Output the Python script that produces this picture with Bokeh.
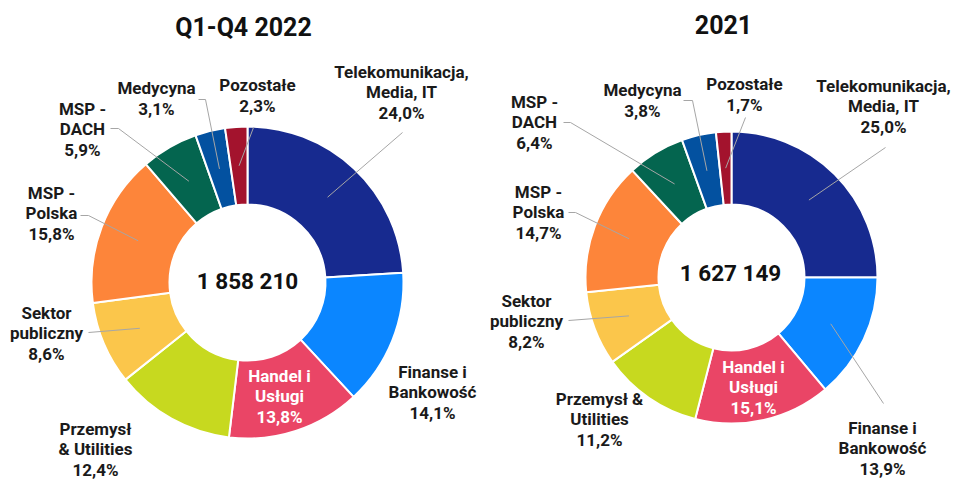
import math
from bokeh.plotting import figure
from bokeh.models import Range1d, ColumnDataSource
from bokeh.core.properties import value
from bokeh.embed import file_html
from bokeh.resources import INLINE

# ---------------- data ----------------
categories = ["Telekomunikacja, Media, IT", "Finanse i Bankowość", "Handel i Usługi",
              "Przemysł & Utilities", "Sektor publiczny", "MSP - Polska", "MSP - DACH",
              "Medycyna", "Pozostałe"]
share_2022 = [24.0, 14.1, 13.8, 12.4, 8.6, 15.8, 5.9, 3.1, 2.3]
share_2021 = [25.0, 13.9, 15.1, 11.2, 8.2, 14.7, 6.4, 3.8, 1.7]
total_2022 = "1 858 210"
total_2021 = "1 627 149"
title_2022 = "Q1-Q4 2022"
title_2021 = "2021"

# wrapped label texts (layout)
wrap_2022 = ["Telekomunikacja,\nMedia, IT", "Finanse i\nBankowość", "Handel i\nUsługi",
             "Przemysł\n& Utilities", "Sektor\npubliczny", "MSP -\nPolska", "MSP -\nDACH",
             "Medycyna", "Pozostałe"]
wrap_2021 = ["Telekomunikacja,\nMedia, IT", "Finanse i\nBankowość", "Handel i\nUsługi",
             "Przemysł &\nUtilities", "Sektor\npubliczny", "MSP -\nPolska", "MSP -\nDACH",
             "Medycyna", "Pozostałe"]

colors = ["#172a8f", "#0b86ff", "#ea4566", "#c7d91f", "#fbc64b",
          "#fd853a", "#04654f", "#0351a0", "#a3132d"]

FONT = value("Roboto")

W, H = 953, 481
p = figure(width=W, height=H, output_backend="svg", toolbar_location=None,
           x_range=Range1d(0, W), y_range=Range1d(-H, 0),
           min_border=0, outline_line_color=None, background_fill_color="white",
           border_fill_color="white", x_axis_location=None, y_axis_location=None)
p.grid.visible = False

# layout per chart: center, radii, label anchors (screen px), elbow points
charts = [
    dict(shares=share_2022, wrap=wrap_2022, total=total_2022, title=title_2022,
         cx=247, cy=282, r_out=156, r_in=78, title_pos=(243, 27), total_pos=(247, 280),
         labels=[(401, 92), (432, 392), (279, 396), (95, 449), (46, 333),
                 (51, 213), (82, 129), (156, 98), (257, 95)],
         lines=[[(402, 132)], None, None, None, [(88, 332)],
                [(80, 215), (88, 215)], [(110, 128), (118, 128)],
                [(198, 99), (205, 99)], [(253, 127)]]),
    dict(shares=share_2021, wrap=wrap_2021, total=total_2021, title=title_2021,
         cx=731, cy=277, r_out=146, r_in=73, title_pos=(723, 24), total_pos=(730, 272),
         labels=[(883, 106), (882, 448), (753, 387), (599, 419), (526, 321),
                 (538, 212), (534, 122), (642, 100), (744, 94)],
         lines=[[(885, 147)], [(883, 403)], None, None, [(568, 320)],
                [(568, 212), (575, 212)], [(563, 122), (570, 122)],
                [(683, 100), (692, 100)], [(745, 117)]]),
]

for c in charts:
    shares = c["shares"]
    tot = sum(shares)
    starts, ends, mids = [], [], []
    cum = 0.0
    for s in shares:
        a0 = math.pi / 2 - 2 * math.pi * cum / tot
        cum += s
        a1 = math.pi / 2 - 2 * math.pi * cum / tot
        starts.append(a0)
        ends.append(a1)
        mids.append((a0 + a1) / 2)
    src = ColumnDataSource(dict(start=starts, end=ends, color=colors, cat=categories))
    p.annular_wedge(x=c["cx"], y=-c["cy"], inner_radius=c["r_in"], outer_radius=c["r_out"],
                    start_angle="start", end_angle="end", direction="clock",
                    fill_color="color", line_color="white", line_width=2, source=src)

    # leader lines
    xs, ys = [], []
    rm = 0.75 * c["r_out"]
    for i, pts in enumerate(c["lines"]):
        if pts is None:
            continue
        sx = c["cx"] + rm * math.cos(mids[i])
        sy = -c["cy"] + rm * math.sin(mids[i])
        xs.append([q[0] for q in pts] + [sx])
        ys.append([-q[1] for q in pts] + [sy])
    p.multi_line(xs=xs, ys=ys, line_color="#a6a6a6", line_width=1)

    # labels
    texts, lx, ly, tcol = [], [], [], []
    for i, s in enumerate(shares):
        pct = f"{s:.1f}".replace(".", ",") + "%"
        texts.append(c["wrap"][i] + "\n" + pct)
        lx.append(c["labels"][i][0])
        ly.append(-c["labels"][i][1])
        tcol.append("white" if i == 2 else "#1a1a1a")
    lsrc = ColumnDataSource(dict(x=lx, y=ly, text=texts, color=tcol))
    p.text(x="x", y="y", text="text", source=lsrc, text_align="center",
           text_baseline="middle", text_font=FONT, text_font_style="bold",
           text_font_size="17px", text_line_height=1.04, text_color="color")

    # title and total
    p.text(x=[c["title_pos"][0]], y=[-c["title_pos"][1]], text=[c["title"]],
           text_align="center", text_baseline="middle", text_font=FONT,
           text_font_style="bold", text_font_size="25px", text_color="#111111")
    p.text(x=[c["total_pos"][0]], y=[-c["total_pos"][1]], text=[c["total"]],
           text_align="center", text_baseline="middle", text_font=FONT,
           text_font_style="bold", text_font_size="22.5px", text_color="#111111")

open("out.html", "w").write(file_html(p, INLINE))
